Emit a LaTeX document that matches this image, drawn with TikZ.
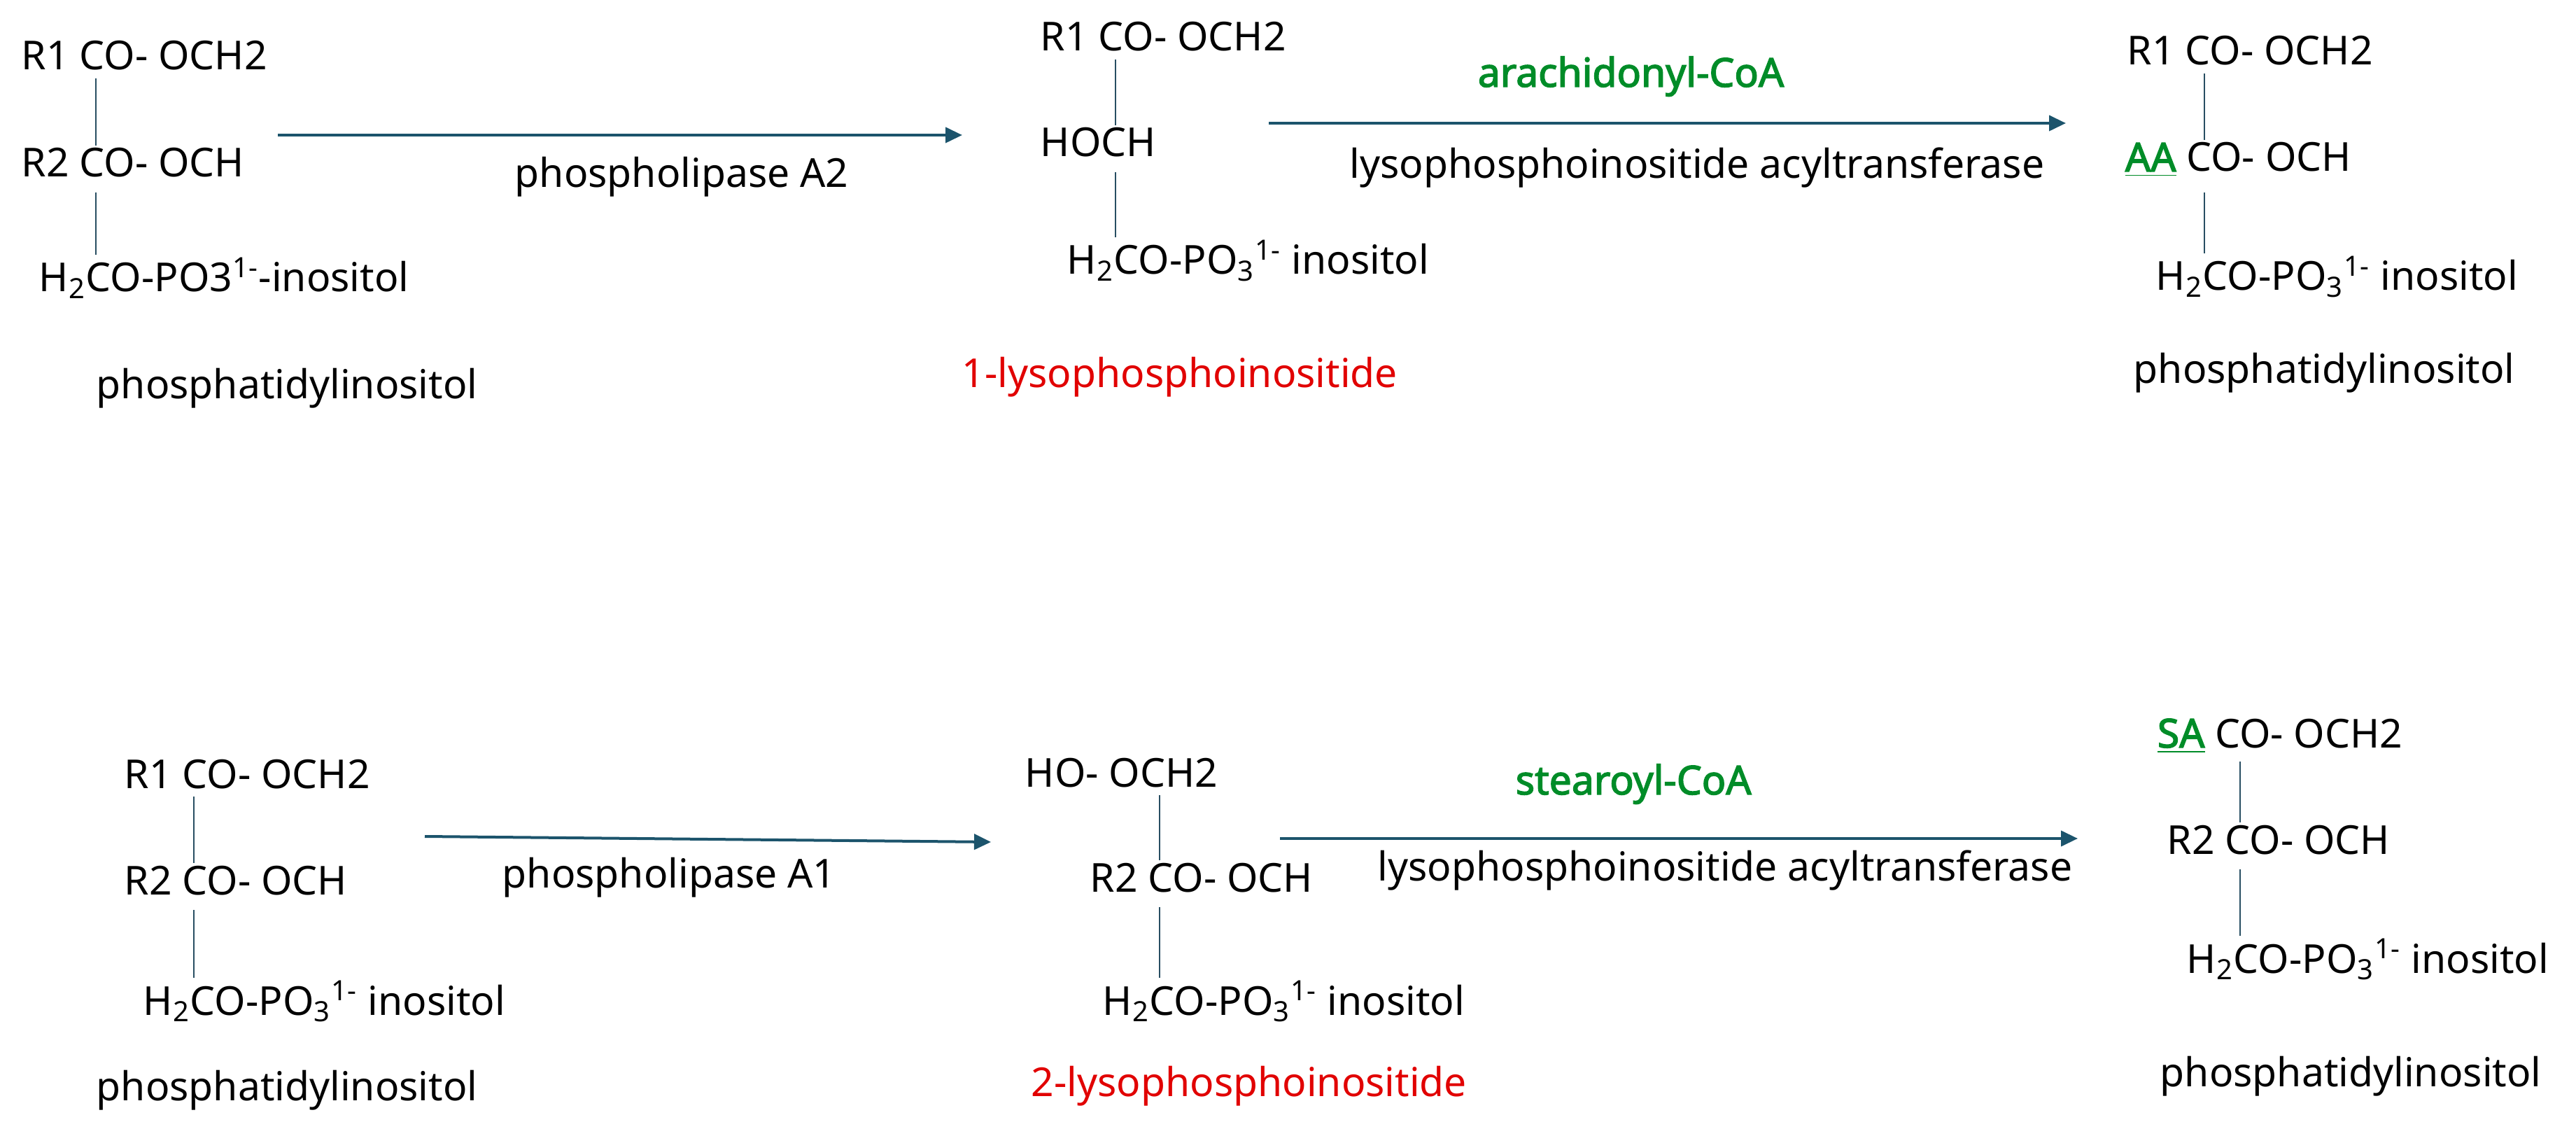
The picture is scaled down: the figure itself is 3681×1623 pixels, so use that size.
\documentclass[tikz,border=0pt]{standalone}
\usepackage{fontspec}
\setmainfont{Noto Sans}[BoldFont={Noto Sans},BoldFeatures={FakeBold=2.5}]
\usetikzlibrary{arrows.meta}
\definecolor{arrowblue}{RGB}{28,84,108}
\definecolor{bondblue}{RGB}{40,78,98}
\definecolor{acylgreen}{RGB}{0,140,40}
\definecolor{lysored}{RGB}{225,0,0}

\begin{document}
\begin{tikzpicture}[x=0.25pt,y=0.25pt,yscale=-1,xscale=1,
  chem/.style={anchor=base west,inner sep=0.75pt,font=\fontsize{14.25}{17}\selectfont},
  lyso/.style={text=lysored},
  coa/.style={text=acylgreen,font=\fontsize{14.25}{17}\selectfont\bfseries},
  bond/.style={draw=bondblue,line width=0.55pt,shorten <=2pt},
  bondlow/.style={bond,shorten <=4.5pt},
  arr/.style={draw=arrowblue,line width=1pt,-{Triangle[length=6pt,width=5.5pt]}}]
\useasboundingbox (0,0) rectangle (3681,1623);

%Upper row: phosphatidylinositol
% Text Node
\node (pia) [chem] at (27,100) {R1 CO- OCH2};
% Text Node
\node (pib) [chem] at (27,253) {R2 CO- OCH};
% Text Node
\node (pic) [chem] at (52,417) {H\textsubscript{2}CO-PO3\textsuperscript{1-}-inositol};
% Text Node
\node (pin) [chem] at (134,570) {phosphatidylinositol};
\coordinate (pix) at (137,0);
%Straight Lines
\draw [bond] (pix |- pia.south) -- (pix |- pib.north);
\draw [bondlow] (pix |- pib.south) -- (pix |- pic.north);

%Straight Lines
\coordinate (r1s) at (397,193);
\coordinate (r1e) at (1375,193);
\draw [arr] (r1s) -- (r1e);
% Text Node
\node (pla2) [chem] at (732,268) {phospholipase A2};

%Upper row: 1-lysophosphoinositide
% Text Node
\node (lya) [chem] at (1483,73) {R1 CO- OCH2};
% Text Node
\node (lyb) [chem] at (1483,224) {HOCH};
% Text Node
\node (lyc) [chem] at (1521,392) {H\textsubscript{2}CO-PO\textsubscript{3}\textsuperscript{1-} inositol};
% Text Node
\node (lyn) [chem,lyso] at (1371,554) {1-lysophosphoinositide};
\coordinate (lyx) at (1594,0);
%Straight Lines
\draw [bond] (lyx |- lya.south) -- (lyx |- lyb.north);
\draw [bondlow] (lyx |- lyb.south) -- (lyx |- lyc.north);

%Straight Lines
\coordinate (r2s) at (1813,176);
\coordinate (r2e) at (2952,176);
\draw [arr] (r2s) -- (r2e);
% Text Node
\node (aacoa) [chem,coa] at (2108,124) {arachidonyl-CoA};
% Text Node
\node (lpat1) [chem] at (1925,255) {lysophosphoinositide acyltransferase};

%Upper row: arachidonoyl phosphatidylinositol
% Text Node
\node (paa) [chem] at (3036,93) {R1 CO- OCH2};
% Text Node
\node (pab) [chem] at (3033,245) {\textcolor{acylgreen}{\underline{\textbf{AA}}} CO- OCH};
% Text Node
\node (pac) [chem] at (3077,415) {H\textsubscript{2}CO-PO\textsubscript{3}\textsuperscript{1-} inositol};
% Text Node
\node (pan) [chem] at (3045,548) {phosphatidylinositol};
\coordinate (pax) at (3150,0);
%Straight Lines
\draw [bond] (pax |- paa.south) -- (pax |- pab.north);
\draw [bondlow] (pax |- pab.south) -- (pax |- pac.north);

%Lower row: phosphatidylinositol
% Text Node
\node (pid) [chem] at (174,1126) {R1 CO- OCH2};
% Text Node
\node (pie) [chem] at (174,1278) {R2 CO- OCH};
% Text Node
\node (pif) [chem] at (201,1450) {H\textsubscript{2}CO-PO\textsubscript{3}\textsuperscript{1-} inositol};
% Text Node
\node (pim) [chem] at (134,1572) {phosphatidylinositol};
\coordinate (pdx) at (277,0);
%Straight Lines
\draw [bond] (pdx |- pid.south) -- (pdx |- pie.north);
\draw [bondlow] (pdx |- pie.south) -- (pdx |- pif.north);

%Straight Lines
\coordinate (r3s) at (607,1195);
\coordinate (r3e) at (1416,1203);
\draw [arr] (r3s) -- (r3e);
% Text Node
\node (pla1) [chem] at (714,1268) {phospholipase A1};

%Lower row: 2-lysophosphoinositide
% Text Node
\node (lzd) [chem] at (1461,1124) {HO- OCH2};
% Text Node
\node (lze) [chem] at (1554,1274) {R2 CO- OCH};
% Text Node
\node (lzf) [chem] at (1572,1450) {H\textsubscript{2}CO-PO\textsubscript{3}\textsuperscript{1-} inositol};
% Text Node
\node (lzn) [chem,lyso] at (1470,1566) {2-lysophosphoinositide};
\coordinate (lzx) at (1657,0);
%Straight Lines
\draw [bond] (lzx |- lzd.south) -- (lzx |- lze.north);
\draw [bondlow] (lzx |- lze.south) -- (lzx |- lzf.north);

%Straight Lines
\coordinate (r4s) at (1829,1198);
\coordinate (r4e) at (2969,1198);
\draw [arr] (r4s) -- (r4e);
% Text Node
\node (sacoa) [chem,coa] at (2162,1135) {stearoyl-CoA};
% Text Node
\node (lpat2) [chem] at (1965,1258) {lysophosphoinositide acyltransferase};

%Lower row: stearoyl phosphatidylinositol
% Text Node
\node (psd) [chem] at (3079,1068) {\textcolor{acylgreen}{\underline{\textbf{SA}}} CO- OCH2};
% Text Node
\node (pse) [chem] at (3093,1220) {R2 CO- OCH};
% Text Node
\node (psf) [chem] at (3121,1390) {H\textsubscript{2}CO-PO\textsubscript{3}\textsuperscript{1-} inositol};
% Text Node
\node (psn) [chem] at (3083,1552) {phosphatidylinositol};
\coordinate (psx) at (3201,0);
%Straight Lines
\draw [bond] (psx |- psd.south) -- (psx |- pse.north);
\draw [bondlow] (psx |- pse.south) -- (psx |- psf.north);

\end{tikzpicture}
\end{document}
